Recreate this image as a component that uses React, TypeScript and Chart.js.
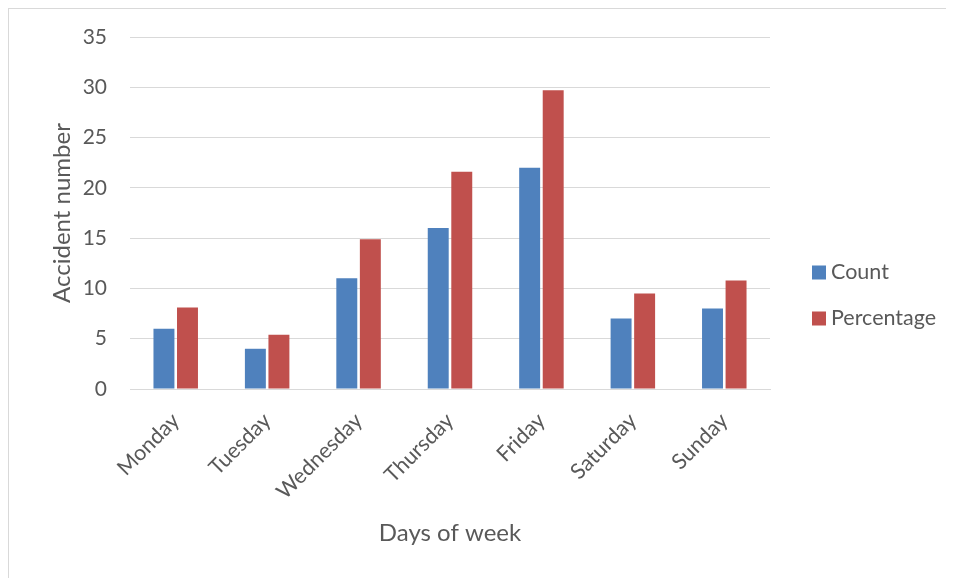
import React, { useEffect, useRef } from "react";
import { Chart, registerables } from "chart.js";

Chart.register(...registerables);

const days = ["Monday", "Tuesday", "Wednesday", "Thursday", "Friday", "Saturday", "Sunday"];
const countValues = [6, 4, 11, 16, 22, 7, 8];
const percentageValues = [8.1, 5.4, 14.9, 21.6, 29.7, 9.5, 10.8];
const seriesNames = ["Count", "Percentage"];
const seriesColors = ["#4f81bd", "#c0504d"];

const FONT = "Lato, 'Open Sans', sans-serif";
const TEXT = "#595959";
const GRID = "#d9d9d9";

// Legend drawn to the right of the plot, two stacked entries centred on the canvas height.
const sideLegend = {
  id: "sideLegend",
  afterDraw(chart: any) {
    const { ctx, chartArea } = chart;
    const midY = chart.height / 2;
    const x = chartArea.right + 42;
    const gap = 46;
    ctx.save();
    ctx.font = `21.5px ${FONT}`;
    ctx.textBaseline = "middle";
    ctx.textAlign = "left";
    chart.data.datasets.forEach((ds: any, i: number) => {
      const cy = midY + (i - (chart.data.datasets.length - 1) / 2) * gap + 2;
      ctx.fillStyle = ds.backgroundColor;
      ctx.fillRect(x, cy - 7, 14, 14);
      ctx.fillStyle = TEXT;
      ctx.fillText(ds.label, x + 19, cy);
    });
    ctx.restore();
  },
};

export default function App() {
  const canvasRef = useRef<HTMLCanvasElement | null>(null);

  useEffect(() => {
    if (!canvasRef.current) return;
    const chart = new Chart(canvasRef.current, {
      type: "bar",
      data: {
        labels: days,
        datasets: [
          { label: seriesNames[0], data: countValues, backgroundColor: seriesColors[0] },
          { label: seriesNames[1], data: percentageValues, backgroundColor: seriesColors[1] },
        ],
      },
      options: {
        responsive: false,
        animation: false,
        layout: { padding: { left: 0, right: 184, top: 28, bottom: 0 } },
        datasets: {
          bar: { categoryPercentage: 0.515, barPercentage: 0.89 },
        },
        plugins: {
          legend: { display: false },
          tooltip: { enabled: false },
        },
        scales: {
          x: {
            grid: { display: false },
            border: { display: true, color: GRID, width: 1 },
            ticks: {
              color: TEXT,
              font: { family: FONT, size: 21.5 },
              minRotation: 45,
              maxRotation: 45,
              padding: 11,
            },
            title: {
              display: true,
              text: "Days of week",
              color: TEXT,
              font: { family: FONT, size: 24 },
              padding: { top: 0, bottom: 30 },
            },
            afterFit(scale: any) {
              scale.height = 189;
            },
          },
          y: {
            min: 0,
            max: 35,
            ticks: {
              stepSize: 5,
              color: TEXT,
              font: { family: FONT, size: 21 },
              padding: 23,
            },
            grid: { color: GRID, drawTicks: false },
            border: { display: false },
            title: {
              display: true,
              text: "Accident number",
              color: TEXT,
              font: { family: FONT, size: 24 },
              padding: { top: 39, bottom: 0 },
            },
            afterFit(scale: any) {
              scale.width = 121;
              scale.paddingTop = 0;
              scale.paddingBottom = 0;
            },
          },
        },
      },
      plugins: [sideLegend],
    });
    return () => chart.destroy();
  }, []);

  return (
    <div
      style={{
        width: 945,
        height: 569,
        borderLeft: `1px solid ${GRID}`,
        borderTop: `1px solid ${GRID}`,
        background: "#fff",
        overflow: "hidden",
      }}
    >
      <canvas ref={canvasRef} width={945} height={569} style={{ display: "block" }} />
    </div>
  );
}
